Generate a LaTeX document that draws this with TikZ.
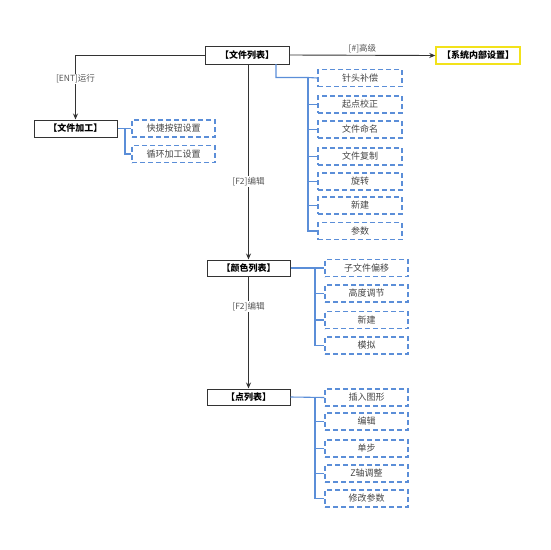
\documentclass[tikz,border=0pt]{standalone}
\usepackage{fontspec}
\setmainfont{Noto Sans CJK SC}
\usetikzlibrary{arrows.meta}
\definecolor{mainline}{HTML}{333333}
\definecolor{treeblue}{HTML}{5B8ED8}
\definecolor{sysyellow}{HTML}{F2E21A}
\definecolor{labgray}{HTML}{555555}
\definecolor{subtext}{HTML}{444444}
\tikzset{
  mainbox/.style={draw=mainline, line width=1pt, minimum width=83pt, minimum height=17pt, inner sep=0pt, font=\fontsize{9pt}{10pt}\selectfont\bfseries, text=black},
  sysbox/.style={mainbox, draw=sysyellow, line width=1.4pt},
  subbox/.style={draw=treeblue, dash pattern=on 5pt off 3pt, line width=1.1pt, minimum width=83pt, minimum height=17pt, inner sep=0pt, font=\fontsize{9pt}{10pt}\selectfont, text=subtext},
  mainconn/.style={draw=mainline, line width=0.9pt},
  mainarrow/.style={mainconn, -{Stealth[length=6pt,width=5pt]}},
  treeconn/.style={draw=treeblue, line width=1.1pt},
  edgelab/.style={fill=white, inner sep=1pt, font=\fontsize{8.5pt}{9pt}\selectfont, text=labgray}
}
\begin{document}
\begin{tikzpicture}[x=1pt,y=-1pt]
\useasboundingbox (0,0) rectangle (550,550);
% main nodes
\node[mainbox, minimum width=84pt, minimum height=18pt] (fl) at (247,55) {【文件列表】};
\node[sysbox, minimum width=84pt] (sys) at (478,55.5) {【系统内部设置】};
\node[mainbox] (jg) at (75.5,128.5) {【文件加工】};
\node[mainbox, minimum height=16pt] (ys) at (248.5,268) {【颜色列表】};
\node[mainbox, minimum height=16pt] (dl) at (248.5,397) {【点列表】};
% sub nodes of 文件加工
\node[subbox] (kj) at (173.5,128.5) {快捷按钮设置};
\node[subbox] (xh) at (173.5,154) {循环加工设置};
% sub nodes of 文件列表
\node[subbox, minimum width=84pt] (a1) at (360,78) {针头补偿};
\node[subbox, minimum width=84pt] (a2) at (360,104.5) {起点校正};
\node[subbox, minimum width=84pt] (a3) at (360,129.5) {文件命名};
\node[subbox, minimum width=84pt] (a4) at (360,156.5) {文件复制};
\node[subbox, minimum width=84pt] (a5) at (360,181.5) {旋转};
\node[subbox, minimum width=84pt] (a6) at (360,205.5) {新建};
\node[subbox, minimum width=84pt] (a7) at (360,231) {参数};
% sub nodes of 颜色列表
\node[subbox] (b1) at (366.5,268) {子文件偏移};
\node[subbox] (b2) at (366.5,293.5) {高度调节};
\node[subbox] (b3) at (366.5,320) {新建};
\node[subbox] (b4) at (366.5,345.5) {模拟};
% sub nodes of 点列表
\node[subbox] (c1) at (366.5,397.5) {插入图形};
\node[subbox] (c2) at (366.5,421.5) {编辑};
\node[subbox] (c3) at (366.5,448.5) {单步};
\node[subbox] (c4) at (366.5,473.5) {Z轴调整};
\node[subbox] (c5) at (366.5,498.5) {修改参数};
% main connectors
\draw[mainarrow] (fl.east) -- node[edgelab, above=1pt, fill=none] {[\#]高级} (sys.west);
\coordinate (flL) at (75.5,55);
\draw[mainarrow] (fl.west) -- (flL) -- node[edgelab, pos=0.37] {[ENT]运行} (jg.north);
\draw[mainarrow] (fl.south -| ys.north) -- node[edgelab, pos=0.6] {[F2]编辑} (ys.north);
\draw[mainarrow] (ys.south) -- node[edgelab, pos=0.27] {[F2]编辑} (dl.north);
% tree connectors: 文件加工
\coordinate (t0) at (125,128.5);
\draw[treeconn] (jg.east) -- (kj.west);
\draw[treeconn] (t0) |- (xh.west);
% tree connectors: 文件列表
\coordinate (flB) at (276,64);
\coordinate (tA) at (308,77.5);
\draw[treeconn] (flB) |- (tA) -- (a1.west);
\draw[treeconn] (tA) -- (308,231) -- (a7.west);
\foreach \n in {a2,a3,a4,a5,a6}{\draw[treeconn] (\n.west) -- (\n.west -| tA);}
% tree connectors: 颜色列表
\coordinate (tB) at (315,268);
\draw[treeconn] (ys.east) -- (b1.west);
\draw[treeconn] (tB) |- (b4.west);
\foreach \n in {b2,b3}{\draw[treeconn] (\n.west) -- (\n.west -| tB);}
% tree connectors: 点列表
\coordinate (tC) at (315,397);
\draw[treeconn] (dl.east) -- (c1.west);
\draw[treeconn] (tC) |- (c5.west);
\foreach \n in {c2,c3,c4}{\draw[treeconn] (\n.west) -- (\n.west -| tC);}
\end{tikzpicture}
\end{document}
